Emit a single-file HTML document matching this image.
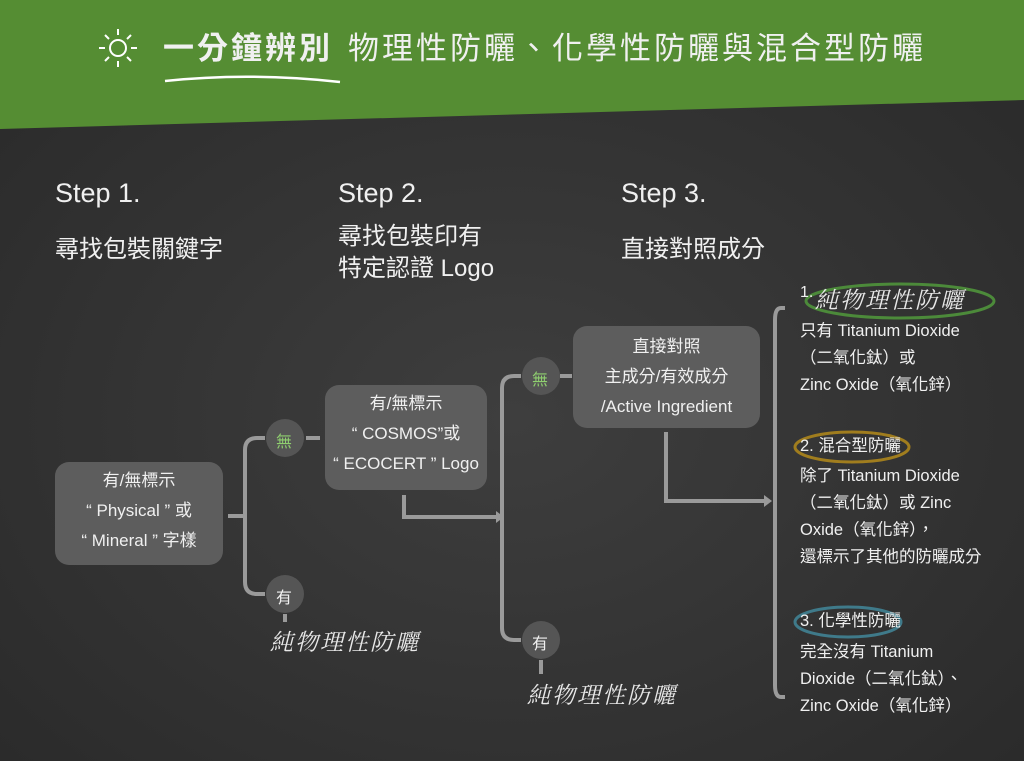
<!DOCTYPE html>
<html><head><meta charset="utf-8">
<style>
body{margin:0;width:1024px;height:761px;overflow:hidden;background:#333;font-family:"Liberation Sans","Noto Sans CJK TC",sans-serif;color:#f0f0f0;position:relative}
.t{position:absolute;white-space:nowrap}
.box{position:absolute;background:#5d5d5d;border-radius:14px}
.c{text-align:center;font-size:17px;line-height:30px}
.r{font-size:16.5px;line-height:27px}
.hw{font-family:"Liberation Serif","Noto Serif CJK SC",serif;font-style:italic;font-size:23px;letter-spacing:2px;color:#e8e8e8}
</style></head><body>
<svg width="1024" height="761" style="position:absolute;left:0;top:0">
<defs><radialGradient id="g" cx="50%" cy="55%" r="70%"><stop offset="0" stop-color="#3e3e3e"/><stop offset="1" stop-color="#2a2a2a"/></radialGradient></defs>
<rect width="1024" height="761" fill="url(#g)"/>
<polygon points="0,0 1024,0 1024,100 0,129" fill="#558d33"/>
<g stroke="#fff" stroke-width="2" fill="none">
<circle cx="118" cy="48" r="8"/>
<path d="M118 29v6M118 61v6M99 48h6M131 48h6M105 35l4 4M131 35l-4 4M105 61l4-4M131 61l-4-4"/>
<path d="M165 81 Q250 72 340 82" stroke-width="2.5"/>
</g>
<g stroke="#9a9a9a" stroke-width="4" fill="none">
<path d="M228 516h17"/>
<path d="M265 438h-8q-12 0-12 12v132q0 12 12 12h8"/>
<path d="M306 438h14"/>
<path d="M404 495v22h92"/>
<path d="M521 376h-7q-12 0-12 12v240q0 12 12 12h7"/>
<path d="M560 376h12"/>
<path d="M666 432v69h98"/>
<path d="M785 308h-4q-6 0-6 12v365q0 12 6 12h4"/>
<path d="M285 614v8M541 660v14"/>
</g>
<g fill="#9a9a9a"><path d="M496 511l8 6-8 6z"/><path d="M764 495l8 6-8 6z"/></g>
<g fill="#555"><circle cx="285" cy="438" r="19"/><circle cx="285" cy="594" r="19"/><circle cx="541" cy="376" r="19"/><circle cx="541" cy="640" r="19"/></g>
<g fill="none" stroke-width="3">
<ellipse cx="900" cy="301" rx="94" ry="17" stroke="#4c8a3a"/>
<ellipse cx="852" cy="447" rx="57" ry="15" stroke="#a07d1e"/>
<ellipse cx="848" cy="622" rx="53" ry="15" stroke="#3f7a8a"/>
</g>
</svg>
<div class="t" style="left:163px;top:29px;font-size:31px;letter-spacing:3px;font-weight:bold;line-height:40px">一分鐘辨別</div>
<div class="t" style="left:348px;top:29px;font-size:31px;letter-spacing:3px;line-height:40px">物理性防曬、化學性防曬與混合型防曬</div>

<div class="t" style="left:55px;top:178px;font-size:27px">Step 1.</div>
<div class="t" style="left:338px;top:178px;font-size:27px">Step 2.</div>
<div class="t" style="left:621px;top:178px;font-size:27px">Step 3.</div>
<div class="t" style="left:55px;top:229px;font-size:24px">尋找包裝關鍵字</div>
<div class="t" style="left:338px;top:221px;font-size:24px;line-height:32px">尋找包裝印有<br>特定認證 Logo</div>
<div class="t" style="left:621px;top:229px;font-size:24px">直接對照成分</div>

<div class="box c" style="left:55px;top:462px;width:168px;height:103px;padding-top:4px;box-sizing:border-box">有/無標示<br>“ Physical ” 或<br>“ Mineral ” 字樣</div>
<div class="box c" style="left:325px;top:385px;width:162px;height:105px;padding-top:4px;box-sizing:border-box">有/無標示<br>“ COSMOS”或<br>“ ECOCERT ” Logo</div>
<div class="box c" style="left:573px;top:326px;width:187px;height:102px;padding-top:6px;box-sizing:border-box">直接對照<br>主成分/有效成分<br>/Active Ingredient</div>

<div class="t" style="left:276px;top:428px;font-size:16px;color:#8fcf6f">無</div>
<div class="t" style="left:276px;top:584px;font-size:16px">有</div>
<div class="t" style="left:532px;top:366px;font-size:16px;color:#8fcf6f">無</div>
<div class="t" style="left:532px;top:630px;font-size:16px">有</div>
<div class="t hw" style="left:270px;top:624px">純物理性防曬</div>
<div class="t hw" style="left:527px;top:677px">純物理性防曬</div>

<div class="t" style="left:800px;top:284px;font-size:16px">1.</div>
<div class="t hw" style="left:815px;top:282px">純物理性防曬</div>
<div class="t r" style="left:800px;top:318px">只有 Titanium Dioxide<br>（二氧化鈦）或<br>Zinc Oxide（氧化鋅）</div>
<div class="t r" style="left:800px;top:433px">2. 混合型防曬</div>
<div class="t r" style="left:800px;top:463px">除了 Titanium Dioxide<br>（二氧化鈦）或 Zinc<br>Oxide（氧化鋅），<br>還標示了其他的防曬成分</div>
<div class="t r" style="left:800px;top:608px">3. 化學性防曬</div>
<div class="t r" style="left:800px;top:639px">完全沒有 Titanium<br>Dioxide（二氧化鈦）、<br>Zinc Oxide（氧化鋅）</div>
</body></html>
